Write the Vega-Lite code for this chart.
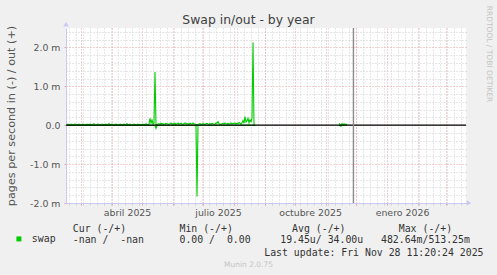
{
  "$schema": "https://vega.github.io/schema/vega-lite/v6.json",
  "width": 400,
  "height": 175,
  "autosize": "none",
  "padding": {"left": 66, "top": 28, "right": 31, "bottom": 72},
  "background": "#f0f0f0",
  "config": {"view": {"fill": "#ffffff", "stroke": null}, "font": "DejaVu Sans"},
  "title": {"text": "Swap in/out - by year", "anchor": "middle", "frame": "group", "dx": -17.5, "dy": 35, "offset": 4, "baseline": "alphabetic", "font": "DejaVu Sans", "fontSize": 12.4, "fontWeight": "normal", "color": "#404040"},
  "resolve": {"axis": {"x": "independent", "y": "independent"}},
  "layer": [
    {
      "data": {"values": [
        {"date":"2025-02-15","seg":"out-1","v":0.02},{"date":"2025-02-16","seg":"out-1","v":0.03},{"date":"2025-02-17","seg":"out-1","v":0.00},{"date":"2025-02-18","seg":"out-1","v":0.02},{"date":"2025-02-19","seg":"out-1","v":0.03},{"date":"2025-02-20","seg":"out-1","v":0.01},{"date":"2025-02-21","seg":"out-1","v":0.00},{"date":"2025-02-22","seg":"out-1","v":0.02},{"date":"2025-02-23","seg":"out-1","v":0.03},{"date":"2025-02-24","seg":"out-1","v":0.02},{"date":"2025-02-25","seg":"out-1","v":0.00},{"date":"2025-02-26","seg":"out-1","v":0.01},{"date":"2025-02-27","seg":"out-1","v":0.03},{"date":"2025-02-28","seg":"out-1","v":0.02},
        {"date":"2025-03-01","seg":"out-1","v":0.00},{"date":"2025-03-02","seg":"out-1","v":0.02},{"date":"2025-03-03","seg":"out-1","v":0.03},{"date":"2025-03-04","seg":"out-1","v":0.01},{"date":"2025-03-05","seg":"out-1","v":0.02},{"date":"2025-03-06","seg":"out-1","v":0.00},{"date":"2025-03-07","seg":"out-1","v":0.03},{"date":"2025-03-08","seg":"out-1","v":0.02},{"date":"2025-03-09","seg":"out-1","v":0.01},{"date":"2025-03-10","seg":"out-1","v":0.03},{"date":"2025-03-11","seg":"out-1","v":0.00},{"date":"2025-03-12","seg":"out-1","v":0.02},{"date":"2025-03-13","seg":"out-1","v":0.02},{"date":"2025-03-14","seg":"out-1","v":0.04},{"date":"2025-03-15","seg":"out-1","v":0.01},{"date":"2025-03-16","seg":"out-1","v":0.00},{"date":"2025-03-17","seg":"out-1","v":0.02},{"date":"2025-03-18","seg":"out-1","v":0.03},{"date":"2025-03-19","seg":"out-1","v":0.02},{"date":"2025-03-20","seg":"out-1","v":0.00},{"date":"2025-03-21","seg":"out-1","v":0.01},{"date":"2025-03-22","seg":"out-1","v":0.03},{"date":"2025-03-23","seg":"out-1","v":0.02},{"date":"2025-03-24","seg":"out-1","v":0.02},{"date":"2025-03-25","seg":"out-1","v":0.00},{"date":"2025-03-26","seg":"out-1","v":0.03},{"date":"2025-03-27","seg":"out-1","v":0.01},{"date":"2025-03-28","seg":"out-1","v":0.02},{"date":"2025-03-29","seg":"out-1","v":0.04},{"date":"2025-03-30","seg":"out-1","v":0.00},{"date":"2025-03-31","seg":"out-1","v":0.02},
        {"date":"2025-04-01","seg":"out-1","v":0.03},{"date":"2025-04-02","seg":"out-1","v":0.01},{"date":"2025-04-03","seg":"out-1","v":0.00},{"date":"2025-04-04","seg":"out-1","v":0.02},{"date":"2025-04-05","seg":"out-1","v":0.03},{"date":"2025-04-06","seg":"out-1","v":0.02},{"date":"2025-04-07","seg":"out-1","v":0.00},{"date":"2025-04-08","seg":"out-1","v":0.01},{"date":"2025-04-09","seg":"out-1","v":0.03},{"date":"2025-04-10","seg":"out-1","v":0.02},{"date":"2025-04-11","seg":"out-1","v":0.02},{"date":"2025-04-12","seg":"out-1","v":0.00},{"date":"2025-04-13","seg":"out-1","v":0.03},{"date":"2025-04-14","seg":"out-1","v":0.01},{"date":"2025-04-15","seg":"out-1","v":0.02},{"date":"2025-04-16","seg":"out-1","v":0.04},{"date":"2025-04-17","seg":"out-1","v":0.00},{"date":"2025-04-18","seg":"out-1","v":0.02},{"date":"2025-04-19","seg":"out-1","v":0.03},{"date":"2025-04-20","seg":"out-1","v":0.01},{"date":"2025-04-21","seg":"out-1","v":0.00},{"date":"2025-04-22","seg":"out-1","v":0.02},{"date":"2025-04-23","seg":"out-1","v":0.03},{"date":"2025-04-24","seg":"out-1","v":0.02},{"date":"2025-04-25","seg":"out-1","v":0.01},{"date":"2025-04-26","seg":"out-1","v":0.00},{"date":"2025-04-27","seg":"out-1","v":0.03},{"date":"2025-04-28","seg":"out-1","v":0.02},{"date":"2025-04-29","seg":"out-1","v":0.01},{"date":"2025-04-30","seg":"out-1","v":0.02},
        {"date":"2025-05-01","seg":"out-1","v":0.00},{"date":"2025-05-02","seg":"out-1","v":0.03},{"date":"2025-05-03","seg":"out-1","v":0.02},{"date":"2025-05-04","seg":"out-1","v":0.01},{"date":"2025-05-05","seg":"out-1","v":0.04},{"date":"2025-05-06","seg":"out-1","v":0.02},{"date":"2025-05-07","seg":"out-1","v":0.00},{"date":"2025-05-08","seg":"out-1","v":0.03},{"date":"2025-05-09","seg":"out-1","v":0.18},{"date":"2025-05-10","seg":"out-1","v":0.04},{"date":"2025-05-11","seg":"out-1","v":0.15},{"date":"2025-05-12","seg":"out-1","v":0.03},{"date":"2025-05-13","seg":"out-1","v":0.05},{"date":"2025-05-14","seg":"out-1","v":1.37},{"date":"2025-05-15","seg":"out-1","v":0.00},{"date":"2025-05-16","seg":"out-1","v":0.02},{"date":"2025-05-17","seg":"out-1","v":0.03},{"date":"2025-05-18","seg":"out-1","v":0.04},{"date":"2025-05-19","seg":"out-1","v":0.02},{"date":"2025-05-20","seg":"out-1","v":0.05},{"date":"2025-05-21","seg":"out-1","v":0.03},{"date":"2025-05-22","seg":"out-1","v":0.04},{"date":"2025-05-23","seg":"out-1","v":0.02},{"date":"2025-05-24","seg":"out-1","v":0.03},{"date":"2025-05-25","seg":"out-1","v":0.05},{"date":"2025-05-26","seg":"out-1","v":0.04},{"date":"2025-05-27","seg":"out-1","v":0.03},{"date":"2025-05-28","seg":"out-1","v":0.02},{"date":"2025-05-29","seg":"out-1","v":0.04},{"date":"2025-05-30","seg":"out-1","v":0.06},{"date":"2025-05-31","seg":"out-1","v":0.03},
        {"date":"2025-06-01","seg":"out-1","v":0.04},{"date":"2025-06-02","seg":"out-1","v":0.03},{"date":"2025-06-03","seg":"out-1","v":0.05},{"date":"2025-06-04","seg":"out-1","v":0.02},{"date":"2025-06-05","seg":"out-1","v":0.04},{"date":"2025-06-06","seg":"out-1","v":0.06},{"date":"2025-06-07","seg":"out-1","v":0.03},{"date":"2025-06-08","seg":"out-1","v":0.04},{"date":"2025-06-09","seg":"out-1","v":0.05},{"date":"2025-06-10","seg":"out-1","v":0.03},{"date":"2025-06-11","seg":"out-1","v":0.02},{"date":"2025-06-12","seg":"out-1","v":0.04},{"date":"2025-06-13","seg":"out-1","v":0.06},{"date":"2025-06-14","seg":"out-1","v":0.05},{"date":"2025-06-15","seg":"out-1","v":0.03},{"date":"2025-06-16","seg":"out-1","v":0.04},{"date":"2025-06-17","seg":"out-1","v":0.02},{"date":"2025-06-18","seg":"out-1","v":0.05},{"date":"2025-06-19","seg":"out-1","v":0.04},{"date":"2025-06-20","seg":"out-1","v":0.03},{"date":"2025-06-21","seg":"out-1","v":0.06},{"date":"2025-06-22","seg":"out-1","v":0.04},{"date":"2025-06-23","seg":"out-1","v":0.03},{"date":"2025-06-24","seg":"out-1","v":0.02},{"date":"2025-06-25","seg":"out-1","v":0.00},{"date":"2025-06-26","seg":"out-1","v":0.02},{"date":"2025-06-27","seg":"out-1","v":0.03},{"date":"2025-06-28","seg":"out-1","v":0.04},{"date":"2025-06-29","seg":"out-1","v":0.02},{"date":"2025-06-30","seg":"out-1","v":0.03},
        {"date":"2025-07-01","seg":"out-1","v":0.04},{"date":"2025-07-02","seg":"out-1","v":0.03},{"date":"2025-07-03","seg":"out-1","v":0.02},{"date":"2025-07-04","seg":"out-1","v":0.04},{"date":"2025-07-05","seg":"out-1","v":0.05},{"date":"2025-07-06","seg":"out-1","v":0.03},{"date":"2025-07-07","seg":"out-1","v":0.02},{"date":"2025-07-08","seg":"out-1","v":0.04},{"date":"2025-07-09","seg":"out-1","v":0.03},{"date":"2025-07-10","seg":"out-1","v":0.05},{"date":"2025-07-11","seg":"out-1","v":0.04},{"date":"2025-07-12","seg":"out-1","v":0.02},{"date":"2025-07-13","seg":"out-1","v":0.03},{"date":"2025-07-14","seg":"out-1","v":0.06},{"date":"2025-07-15","seg":"out-1","v":0.05},{"date":"2025-07-16","seg":"out-1","v":0.09},{"date":"2025-07-17","seg":"out-1","v":0.04},{"date":"2025-07-18","seg":"out-1","v":0.03},{"date":"2025-07-19","seg":"out-1","v":0.02},{"date":"2025-07-20","seg":"out-1","v":0.04},{"date":"2025-07-21","seg":"out-1","v":0.05},{"date":"2025-07-22","seg":"out-1","v":0.03},{"date":"2025-07-23","seg":"out-1","v":0.06},{"date":"2025-07-24","seg":"out-1","v":0.04},{"date":"2025-07-25","seg":"out-1","v":0.03},{"date":"2025-07-26","seg":"out-1","v":0.05},{"date":"2025-07-27","seg":"out-1","v":0.02},{"date":"2025-07-28","seg":"out-1","v":0.04},{"date":"2025-07-29","seg":"out-1","v":0.06},{"date":"2025-07-30","seg":"out-1","v":0.03},{"date":"2025-07-31","seg":"out-1","v":0.05},
        {"date":"2025-08-01","seg":"out-1","v":0.04},{"date":"2025-08-02","seg":"out-1","v":0.06},{"date":"2025-08-03","seg":"out-1","v":0.03},{"date":"2025-08-04","seg":"out-1","v":0.05},{"date":"2025-08-05","seg":"out-1","v":0.04},{"date":"2025-08-06","seg":"out-1","v":0.07},{"date":"2025-08-07","seg":"out-1","v":0.05},{"date":"2025-08-08","seg":"out-1","v":0.03},{"date":"2025-08-09","seg":"out-1","v":0.06},{"date":"2025-08-10","seg":"out-1","v":0.12},{"date":"2025-08-11","seg":"out-1","v":0.05},{"date":"2025-08-12","seg":"out-1","v":0.22},{"date":"2025-08-13","seg":"out-1","v":0.08},{"date":"2025-08-14","seg":"out-1","v":0.11},{"date":"2025-08-15","seg":"out-1","v":0.18},{"date":"2025-08-16","seg":"out-1","v":0.06},{"date":"2025-08-17","seg":"out-1","v":0.14},{"date":"2025-08-18","seg":"out-1","v":0.09},{"date":"2025-08-19","seg":"out-1","v":0.19},{"date":"2025-08-20","seg":"out-1","v":2.13},{"date":"2025-08-21","seg":"out-1","v":0.00},{"date":"2025-08-22","seg":"out-1","v":0.00},
        {"date":"2025-02-15","seg":"in-1","v":0.00},{"date":"2025-05-14","seg":"in-1","v":0.00},{"date":"2025-05-15","seg":"in-1","v":-0.08},{"date":"2025-05-16","seg":"in-1","v":0.00},{"date":"2025-06-24","seg":"in-1","v":0.00},{"date":"2025-06-25","seg":"in-1","v":-1.83},{"date":"2025-06-26","seg":"in-1","v":0.00},{"date":"2025-08-22","seg":"in-1","v":0.00},
        {"date":"2025-11-14","seg":"out-2","v":0.05},{"date":"2025-11-15","seg":"out-2","v":0.02},{"date":"2025-11-16","seg":"out-2","v":0.00},{"date":"2025-11-17","seg":"out-2","v":0.04},{"date":"2025-11-18","seg":"out-2","v":0.01},{"date":"2025-11-19","seg":"out-2","v":0.04},{"date":"2025-11-20","seg":"out-2","v":0.02},{"date":"2025-11-21","seg":"out-2","v":0.03},{"date":"2025-11-22","seg":"out-2","v":0.01},
        {"date":"2025-11-14","seg":"in-2","v":0.00},{"date":"2025-11-16","seg":"in-2","v":-0.03},{"date":"2025-11-17","seg":"in-2","v":0.00},{"date":"2025-11-22","seg":"in-2","v":0.00}
      ]},
      "mark": {"type": "line", "strokeWidth": 1.1},
      "encoding": {
        "x": {"field": "date", "type": "temporal",
          "scale": {"type": "utc", "domain": [{"year":2025,"month":2,"date":14,"utc":true},{"year":2026,"month":3,"date":21,"utc":true}], "nice": false},
          "axis": {"orient": "bottom", "grid": true, "gridColor": "#cfcfcf", "gridDash": [1, 2], "ticks": true, "tickSize": 2, "tickColor": "#cfcfcf", "labels": false, "domain": false,
            "values": [{"year":2025,"month":2,"date":17,"utc":true},{"year":2025,"month":2,"date":24,"utc":true},{"year":2025,"month":3,"date":3,"utc":true},{"year":2025,"month":3,"date":10,"utc":true},{"year":2025,"month":3,"date":17,"utc":true},{"year":2025,"month":3,"date":24,"utc":true},{"year":2025,"month":3,"date":31,"utc":true},{"year":2025,"month":4,"date":7,"utc":true},{"year":2025,"month":4,"date":14,"utc":true},{"year":2025,"month":4,"date":21,"utc":true},{"year":2025,"month":4,"date":28,"utc":true},{"year":2025,"month":5,"date":5,"utc":true},{"year":2025,"month":5,"date":12,"utc":true},{"year":2025,"month":5,"date":19,"utc":true},{"year":2025,"month":5,"date":26,"utc":true},{"year":2025,"month":6,"date":2,"utc":true},{"year":2025,"month":6,"date":9,"utc":true},{"year":2025,"month":6,"date":16,"utc":true},{"year":2025,"month":6,"date":23,"utc":true},{"year":2025,"month":6,"date":30,"utc":true},{"year":2025,"month":7,"date":7,"utc":true},{"year":2025,"month":7,"date":14,"utc":true},{"year":2025,"month":7,"date":21,"utc":true},{"year":2025,"month":7,"date":28,"utc":true},{"year":2025,"month":8,"date":4,"utc":true},{"year":2025,"month":8,"date":11,"utc":true},{"year":2025,"month":8,"date":18,"utc":true},{"year":2025,"month":8,"date":25,"utc":true},{"year":2025,"month":9,"date":1,"utc":true},{"year":2025,"month":9,"date":8,"utc":true},{"year":2025,"month":9,"date":15,"utc":true},{"year":2025,"month":9,"date":22,"utc":true},{"year":2025,"month":9,"date":29,"utc":true},{"year":2025,"month":10,"date":6,"utc":true},{"year":2025,"month":10,"date":13,"utc":true},{"year":2025,"month":10,"date":20,"utc":true},{"year":2025,"month":10,"date":27,"utc":true},{"year":2025,"month":11,"date":3,"utc":true},{"year":2025,"month":11,"date":10,"utc":true},{"year":2025,"month":11,"date":17,"utc":true},{"year":2025,"month":11,"date":24,"utc":true},{"year":2025,"month":12,"date":1,"utc":true},{"year":2025,"month":12,"date":8,"utc":true},{"year":2025,"month":12,"date":15,"utc":true},{"year":2025,"month":12,"date":22,"utc":true},{"year":2025,"month":12,"date":29,"utc":true},{"year":2026,"month":1,"date":5,"utc":true},{"year":2026,"month":1,"date":12,"utc":true},{"year":2026,"month":1,"date":19,"utc":true},{"year":2026,"month":1,"date":26,"utc":true},{"year":2026,"month":2,"date":2,"utc":true},{"year":2026,"month":2,"date":9,"utc":true},{"year":2026,"month":2,"date":16,"utc":true},{"year":2026,"month":2,"date":23,"utc":true},{"year":2026,"month":3,"date":2,"utc":true},{"year":2026,"month":3,"date":9,"utc":true},{"year":2026,"month":3,"date":16,"utc":true}],
            "title": "Munin 2.0.75", "titleX": 182, "titleY": 63.7, "titleAlign": "center", "titleAnchor": null, "titleBaseline": "alphabetic", "titleFont": "DejaVu Sans", "titleFontSize": 7.5, "titleFontWeight": "normal", "titleColor": "#c4c4c4"}},
        "y": {"field": "v", "type": "quantitative",
          "scale": {"domain": [-2, 2.5], "nice": false, "zero": false},
          "axis": {"orient": "right", "grid": true, "gridColor": "#cfcfcf", "gridDash": [1, 2], "ticks": false, "labels": false, "domain": false,
            "values": [-1.8, -1.6, -1.4, -1.2, -0.8, -0.6, -0.4, -0.2, 0.2, 0.4, 0.6, 0.8, 1.2, 1.4, 1.6, 1.8, 2.2, 2.4],
            "title": "RRDTOOL / TOBI OETIKER", "titleX": 22, "titleY": 25.5, "titleAngle": 90, "titleAlign": "center", "titleBaseline": "middle", "titleFont": "DejaVu Sans", "titleFontSize": 7.5, "titleFontWeight": "normal", "titleColor": "#c4c4c4"}},
        "detail": {"field": "seg", "type": "nominal"},
        "color": {"datum": "swap", "type": "nominal",
          "scale": {"range": ["#00cc00"]},
          "legend": {"orient": "none", "legendX": -52, "legendY": 206, "title": null, "symbolType": "square", "symbolSize": 25, "symbolFillColor": "#00cc00", "symbolStrokeColor": "#00cc00", "symbolStrokeWidth": 0, "labelFont": "DejaVu Sans Mono", "labelFontSize": 9.85, "labelColor": "#333333", "labelOffset": 8, "padding": 0}}
      }
    },
    {
      "data": {"values": [{}]},
      "mark": {"type": "rule", "color": "#000000", "strokeWidth": 1.2},
      "encoding": {
        "x": {"datum": {"year":2025,"month":2,"date":14,"utc":true}, "type": "temporal",
          "scale": {"type": "utc", "domain": [{"year":2025,"month":2,"date":14,"utc":true},{"year":2026,"month":3,"date":21,"utc":true}], "nice": false},
          "axis": {"orient": "bottom", "grid": true, "gridColor": "#e8a0a0", "gridDash": [1, 2], "ticks": true, "tickSize": 2, "tickColor": "#e8a0a0", "labels": false, "domain": false,
            "values": [{"year":2025,"month":3,"date":1,"utc":true},{"year":2025,"month":4,"date":1,"utc":true},{"year":2025,"month":5,"date":1,"utc":true},{"year":2025,"month":6,"date":1,"utc":true},{"year":2025,"month":7,"date":1,"utc":true},{"year":2025,"month":8,"date":1,"utc":true},{"year":2025,"month":9,"date":1,"utc":true},{"year":2025,"month":10,"date":1,"utc":true},{"year":2025,"month":11,"date":1,"utc":true},{"year":2025,"month":12,"date":1,"utc":true},{"year":2026,"month":1,"date":1,"utc":true},{"year":2026,"month":2,"date":1,"utc":true},{"year":2026,"month":3,"date":1,"utc":true}],
            "title": "Last update: Fri Nov 28 11:20:24 2025", "titleX": 417, "titleY": 52, "titleAlign": "right", "titleAnchor": null, "titleBaseline": "alphabetic", "titleFont": "DejaVu Sans Mono", "titleFontSize": 9.85, "titleFontWeight": "normal", "titleColor": "#333333"}},
        "x2": {"datum": {"year":2026,"month":3,"date":21,"utc":true}},
        "y": {"datum": 0, "type": "quantitative",
          "scale": {"domain": [-2, 2.5], "nice": false, "zero": false},
          "axis": {"orient": "left", "grid": true, "gridColor": "#e8a0a0", "gridDash": [1, 2], "ticks": true, "tickSize": 2, "tickColor": "#e8a0a0", "labels": false, "domain": false, "values": [-2, -1, 0, 1, 2], "title": null}}
      }
    },
    {
      "data": {"values": [{}]},
      "mark": {"type": "rule", "color": "#8a8a8a", "strokeWidth": 1.4},
      "encoding": {
        "x": {"datum": {"year":2025,"month":11,"date":28,"hours":10,"minutes":20,"utc":true}, "type": "temporal",
          "scale": {"type": "utc", "domain": [{"year":2025,"month":2,"date":14,"utc":true},{"year":2026,"month":3,"date":21,"utc":true}], "nice": false},
          "axis": {"orient": "bottom", "grid": false, "ticks": false, "tickSize": 0, "domain": true, "domainColor": "#c8c8f4", "labelOverlap": false, "labelFlush": false,
            "values": [{"year":2025,"month":4,"date":16,"utc":true},{"year":2025,"month":7,"date":16,"utc":true},{"year":2025,"month":10,"date":16,"utc":true},{"year":2026,"month":1,"date":16,"utc":true}],
            "labelExpr": "['enero','febrero','marzo','abril','mayo','junio','julio','agosto','septiembre','octubre','noviembre','diciembre'][utcmonth(datum.value)] + ' ' + utcyear(datum.value)",
            "labelFont": "DejaVu Sans", "labelFontSize": 9.4, "labelColor": "#555555", "labelBaseline": "alphabetic", "labelPadding": 12.7, "labelAlign": "center",
            "title": ["\u00a0\u00a0\u00a0\u00a0Cur\u00a0(-/+)\u00a0\u00a0\u00a0\u00a0\u00a0\u00a0\u00a0\u00a0\u00a0Min\u00a0(-/+)\u00a0\u00a0\u00a0\u00a0\u00a0\u00a0\u00a0\u00a0\u00a0\u00a0Avg\u00a0(-/+)\u00a0\u00a0\u00a0\u00a0\u00a0\u00a0\u00a0\u00a0\u00a0Max\u00a0(-/+)", "\u00a0\u00a0-nan\u00a0/\u00a0\u00a0-nan\u00a0\u00a0\u00a0\u00a0\u00a0\u00a00.00\u00a0/\u00a0\u00a00.00\u00a0\u00a0\u00a0\u00a0\u00a019.45u/\u00a034.00u\u00a0\u00a0\u00a0482.64m/513.25m"],
            "titleX": 6.3, "titleY": 28, "titleAlign": "left", "titleAnchor": null, "titleBaseline": "alphabetic", "titleLineHeight": 11.7, "titleFont": "DejaVu Sans Mono", "titleFontSize": 9.85, "titleFontWeight": "normal", "titleColor": "#333333"}},
        "y": {"datum": -2, "type": "quantitative",
          "scale": {"domain": [-2, 2.5], "nice": false, "zero": false},
          "axis": {"orient": "left", "grid": false, "ticks": false, "tickSize": 0, "domain": true, "domainColor": "#c8c8f4", "labelFlush": false, "labelOverlap": false,
            "values": [-2, -1, 0, 1, 2],
            "labelExpr": "datum.value == 0 ? '0.0' : (datum.value < 0 ? '-' : '') + format(abs(datum.value), '.1f') + ' m'",
            "labelFont": "DejaVu Sans", "labelFontSize": 9.4, "labelColor": "#555555", "labelPadding": 6,
            "title": "pages per second in (-) / out (+)", "titleX": -55, "titleY": 87.5, "titleAngle": 270, "titleAlign": "center", "titleAnchor": null, "titleBaseline": "middle", "titleFont": "DejaVu Sans", "titleFontSize": 11.2, "titleFontWeight": "normal", "titleColor": "#555555"}},
        "y2": {"datum": 2.5}
      }
    },
    {
      "data": {"values": [{}]},
      "mark": {"type": "point", "shape": "triangle-up", "filled": true, "color": "#c8c8f4", "size": 30, "opacity": 1, "clip": false},
      "encoding": {
        "x": {"datum": {"year":2025,"month":2,"date":14,"utc":true}, "type": "temporal",
          "scale": {"type": "utc", "domain": [{"year":2025,"month":2,"date":14,"utc":true},{"year":2026,"month":3,"date":21,"utc":true}], "nice": false},
          "axis": null},
        "y": {"datum": 2.6, "type": "quantitative",
          "scale": {"domain": [-2, 2.5], "nice": false, "zero": false},
          "axis": null}
      }
    },
    {
      "data": {"values": [{}]},
      "mark": {"type": "point", "shape": "triangle-right", "filled": true, "color": "#c8c8f4", "size": 30, "opacity": 1, "clip": false},
      "encoding": {
        "x": {"datum": {"year":2026,"month":3,"date":24,"utc":true}, "type": "temporal",
          "scale": {"type": "utc", "domain": [{"year":2025,"month":2,"date":14,"utc":true},{"year":2026,"month":3,"date":21,"utc":true}], "nice": false},
          "axis": null},
        "y": {"datum": -2, "type": "quantitative",
          "scale": {"domain": [-2, 2.5], "nice": false, "zero": false},
          "axis": null}
      }
    }
  ]
}
